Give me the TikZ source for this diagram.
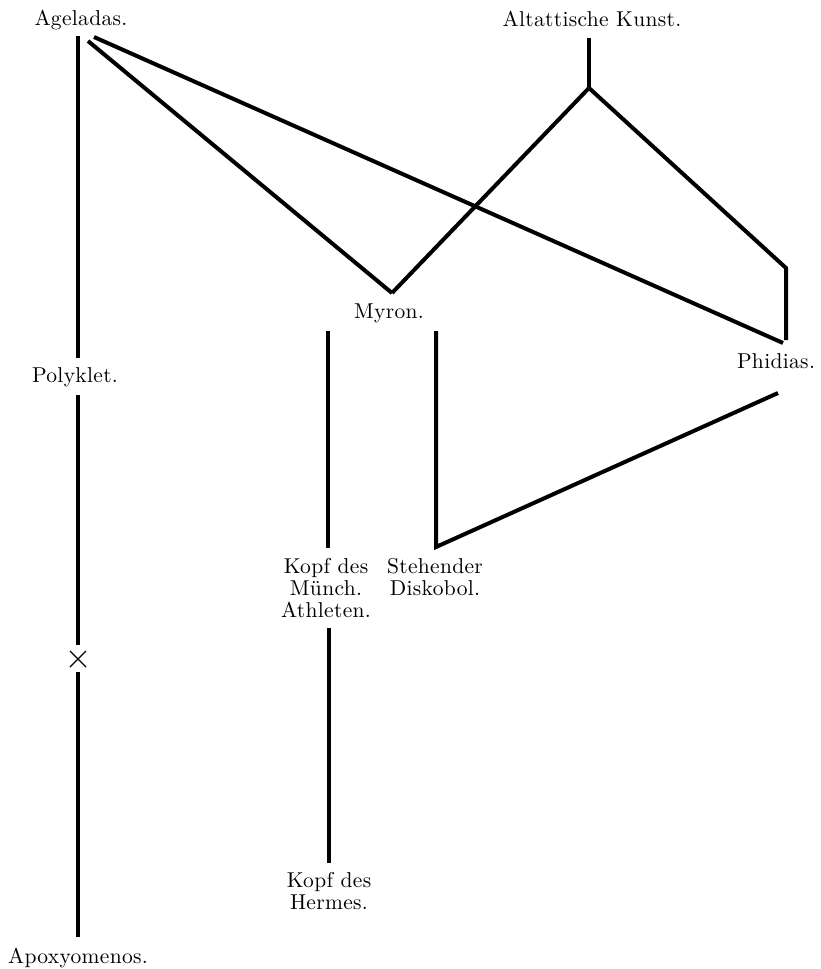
\documentclass[tikz,border=0pt]{standalone}
\font\lbfont="[lmroman10-regular.otf]:mapping=tex-text;letterspace=1.5" at 21.5pt
\begin{document}
\begin{tikzpicture}[x=1pt,y=-1pt,
  lbl/.style={inner sep=0pt, font={\lbfont\baselineskip=22pt\relax}, align=center},
  edge/.style={line width=4pt, line cap=butt, line join=miter},
  crossline/.style={line width=1.4pt}]
\useasboundingbox (0,0) rectangle (820,969);
\fill[white] (0,0) rectangle (820,969);

% labels
\node[lbl, anchor=base] (ageladas) at (81,25) {Ageladas.};
\node[lbl, anchor=base] (altatt) at (592,27) {Altattische Kunst.};
\node[lbl, anchor=base] (myron) at (389,318) {Myron.};
\node[lbl, anchor=base] (phidias) at (776,368) {Phidias.};
\node[lbl, anchor=base] (polyklet) at (75,382) {Polyklet.};
\node[lbl, anchor=north] (muench) at (326,558) {Kopf des\\Münch.\\Athleten.};
\node[lbl, anchor=north] (disk) at (435,558) {Stehender\\Diskobol.};
\node[lbl, anchor=north] (hermes) at (329,872) {Kopf des\\Hermes.};
\node[lbl, anchor=base] (apox) at (78,963) {Apoxyomenos.};

% connector end points
\coordinate (ag-v) at (78,36);
\coordinate (ag-m) at (88,41);
\coordinate (ag-p) at (94,37);
\coordinate (po-t) at (78,358);
\coordinate (po-b) at (78,395);
\coordinate (x-t) at (78,645);
\coordinate (x-c) at (78,659);
\coordinate (x-b) at (78,672);
\coordinate (ap-t) at (78,937);
\coordinate (al-t) at (589,38);
\coordinate (al-j) at (589,88);
\coordinate (my-v) at (392,293);
\coordinate (ph-t) at (786,268);
\coordinate (ph-b) at (786,340);
\coordinate (ph-e) at (783,343);
\coordinate (ph-l) at (778,393);
\coordinate (my-l) at (328,331);
\coordinate (my-r) at (436,331);
\coordinate (mu-t) at (328,548);
\coordinate (di-t) at (436,547);
\coordinate (mu-b) at (329,628);
\coordinate (he-t) at (329,863);

% connectors
\draw[edge] (ag-v) -- (po-t);
\draw[edge] (po-b) -- (x-t);
\draw[edge] (x-b) -- (ap-t);
\draw[crossline] ([shift={(-8,-8)}]x-c) -- ([shift={(8,8)}]x-c);
\draw[crossline] ([shift={(8,-8)}]x-c) -- ([shift={(-8,8)}]x-c);
\draw[edge] (ag-m) -- (my-v);
\draw[edge] (ag-p) -- (ph-e);
\draw[edge] (al-t) -- (al-j);
\draw[edge] (al-j) -- (my-v);
\draw[edge] (al-j) -- (ph-t) -- (ph-b);
\draw[edge] (my-l) -- (mu-t);
\draw[edge] (my-r) -- (di-t) -- (ph-l);
\draw[edge] (mu-b) -- (he-t);
\end{tikzpicture}
\end{document}
